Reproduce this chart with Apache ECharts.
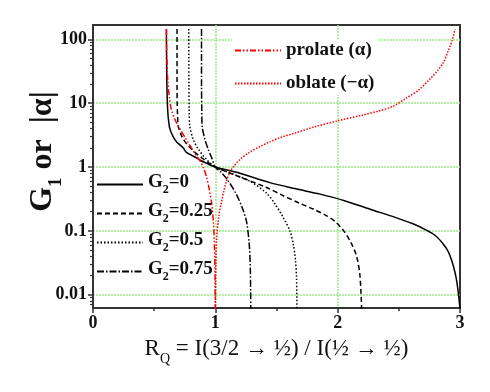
<!DOCTYPE html>
<html>
<head>
    <meta charset="utf-8">
</head>
<body style="margin:0;background:#fff;">

<div id="main" style="width: 490px;height:392px;"></div>
<script src="https://cdn.jsdelivr.net/npm/echarts@6/dist/echarts.min.js"></script>
<script type="text/javascript">
    // tick values
    var xTicks = [0, 1, 2, 3];
    var yTicks = [0.01, 0.1, 1, 10, 100];
    var yMinorTicks = [0.007, 0.008, 0.009,
        0.02, 0.03, 0.04, 0.05, 0.06, 0.07, 0.08, 0.09,
        0.2, 0.3, 0.4, 0.5, 0.6, 0.7, 0.8, 0.9,
        2, 3, 4, 5, 6, 7, 8, 9,
        20, 30, 40, 50, 60, 70, 80, 90];

    // [R_Q, G1]
    var g2_0 = [[0.600, 145], [0.601, 60], [0.604, 20], [0.608, 10], [0.615, 6], [0.628, 4], [0.655, 3],
        [0.682, 2.5], [0.737, 2], [0.764, 1.7], [0.83, 1.45], [0.873, 1.29], [0.93, 1.14], [1.0, 1.0],
        [1.2, 0.8], [1.446, 0.57], [1.65, 0.46], [1.855, 0.377], [2.05, 0.3], [2.264, 0.219], [2.47, 0.163],
        [2.62, 0.128], [2.72, 0.104], [2.8, 0.084], [2.864, 0.062], [2.905, 0.047], [2.933, 0.034],
        [2.96, 0.022], [2.974, 0.016], [2.988, 0.01], [3.0, 0.006]];
    var g2_25 = [[0.687, 145], [0.687, 30], [0.688, 10], [0.692, 6], [0.696, 4.45], [0.715, 3.4], [0.737, 2.75],
        [0.77, 2.25], [0.805, 1.92], [0.845, 1.62], [0.887, 1.41], [0.94, 1.18], [1.0, 1.0], [1.2, 0.7],
        [1.419, 0.478], [1.55, 0.36], [1.69, 0.27], [1.8, 0.22], [1.9, 0.177], [1.98, 0.14], [2.05, 0.1],
        [2.11, 0.065], [2.155, 0.04], [2.182, 0.02], [2.196, 0.006]];
    var g2_50 = [[0.783, 145], [0.784, 20], [0.786, 8], [0.791, 4.45], [0.818, 2.75], [0.86, 1.92], [0.914, 1.41],
        [1.0, 1.0], [1.15, 0.77], [1.282, 0.6], [1.419, 0.39], [1.49, 0.26], [1.555, 0.162], [1.61, 0.1],
        [1.637, 0.062], [1.655, 0.035], [1.664, 0.018], [1.667, 0.006]];
    var g2_75 = [[0.887, 145], [0.887, 20], [0.889, 8], [0.892, 4.45], [0.914, 2.75], [0.941, 1.92], [0.969, 1.41],
        [1.0, 1.0], [1.05, 0.82], [1.1, 0.63], [1.17, 0.38], [1.22, 0.23], [1.255, 0.14], [1.277, 0.062],
        [1.286, 0.025], [1.29, 0.006]];
    var prolate = [[0.600, 145], [0.603, 60], [0.61, 25], [0.625, 12], [0.64, 8], [0.668, 5.67], [0.7, 4.3],
        [0.76, 2.75], [0.81, 1.92], [0.845, 1.5], [0.875, 1.25], [0.905, 0.95], [0.928, 0.7], [0.95, 0.45],
        [0.969, 0.28], [0.985, 0.13], [0.995, 0.04], [0.999, 0.01], [1.0, 0.006]];
    var oblate = [[1.0, 0.006], [1.001, 0.01], [1.004, 0.03], [1.01, 0.07], [1.03, 0.18], [1.05, 0.28],
        [1.07, 0.42], [1.09, 0.6], [1.12, 0.84], [1.15, 1.02], [1.2, 1.3], [1.26, 1.62], [1.37, 2.12],
        [1.45, 2.5], [1.53, 2.9], [1.65, 3.4], [1.8, 4.2], [2.0, 5.3], [2.2, 6.5], [2.33, 7.5], [2.45, 8.9],
        [2.56, 12], [2.66, 16], [2.76, 24.5], [2.82, 33], [2.866, 44], [2.905, 67], [2.935, 95], [2.96, 145]];

    var serif = 'Liberation Serif';
    var gridGreen = '#9aea86';

    function lineSeries(name, data, color, dash) {
        return {
            name: name,
            type: 'line',
            data: data,
            symbol: 'none',
            smooth: 0.3,
            clip: true,
            lineStyle: {color: color, width: 1.5, type: dash},
            itemStyle: {color: color}
        };
    }

    var option = {
        animation: false,
        backgroundColor: '#fff',
        grid: {
            left: 93, right: 30, top: 25, bottom: 84,
            outerBoundsMode: 'none',
            containLabel: false,
            show: true, borderColor: '#333', borderWidth: 2
        },
        legend: [
            {
                data: ['prolate (α)', 'oblate (−α)'],
                orient: 'vertical',
                left: 232, top: 39,
                itemWidth: 46, itemHeight: 14, itemGap: 14,
                itemStyle: {opacity: 0},
                backgroundColor: '#fff',
                padding: [2, 4, 2, 2],
                textStyle: {fontFamily: serif, fontWeight: 'bold', fontSize: 19, color: '#111'}
            },
            {
                data: ['G2=0', 'G2=0.25', 'G2=0.5', 'G2=0.75'],
                orient: 'vertical',
                left: 96, top: 173,
                itemWidth: 46, itemHeight: 14, itemGap: 6,
                itemStyle: {opacity: 0},
                padding: 0,
                formatter: function (name) {
                    return '{g|G}{s|2}{g|' + name.slice(2) + '}';
                },
                textStyle: {
                    fontFamily: serif, fontWeight: 'bold', fontSize: 19, color: '#111',
                    rich: {
                        g: {fontFamily: serif, fontWeight: 'bold', fontSize: 19, verticalAlign: 'bottom', padding: [0, 0, 4, 0]},
                        s: {fontFamily: serif, fontWeight: 'bold', fontSize: 12, verticalAlign: 'bottom'}
                    }
                }
            }
        ],
        xAxis: {
            type: 'value',
            min: xTicks[0], max: xTicks[xTicks.length - 1], interval: 1,
            name: '{n|R}{s|Q}{n| = I(3/2 → ½) / I(½ → ½)}',
            nameLocation: 'middle',
            nameGap: 29,
            nameTextStyle: {
                rich: {
                    n: {fontFamily: serif, fontSize: 23, color: '#111', verticalAlign: 'bottom', padding: [0, 0, 6, 0]},
                    s: {fontFamily: serif, fontSize: 14, color: '#111', verticalAlign: 'bottom'}
                }
            },
            axisLine: {lineStyle: {color: '#333', width: 2}},
            axisTick: {length: 5, lineStyle: {color: '#333', width: 1.5}},
            minorTick: {show: true, splitNumber: 2, length: 3, lineStyle: {color: '#333', width: 1.5}},
            axisLabel: {fontFamily: serif, fontWeight: 'bold', fontSize: 18, color: '#111', margin: 6},
            splitLine: {show: true, showMinLine: false, showMaxLine: false,
                lineStyle: {color: gridGreen, type: [2, 1], width: 1.5}}
        },
        yAxis: [
            {
                type: 'log',
                min: 0.0062, max: 168,
                name: '{t|G}{s|1}{t| or  |α|}',
                nameLocation: 'middle',
                nameGap: 27,
                nameRotate: 90,
                nameMoveOverlap: false,
                nameTextStyle: {
                    padding: [0, 0, 0, 30],
                    rich: {
                        t: {fontFamily: serif, fontWeight: 'bold', fontSize: 32, color: '#111', verticalAlign: 'bottom', padding: [0, 0, 7, 0]},
                        s: {fontFamily: serif, fontWeight: 'bold', fontSize: 19, color: '#111', verticalAlign: 'bottom'}
                    }
                },
                axisLine: {show: true, lineStyle: {color: '#333', width: 2}},
                axisTick: {show: true, length: 5, customValues: yTicks, lineStyle: {color: '#333', width: 1.5}},
                axisLabel: {
                    customValues: yTicks,
                    fontFamily: serif, fontWeight: 'bold', fontSize: 18, color: '#111', margin: 6,
                    formatter: function (v) { return String(v); }
                },
                splitLine: {show: true, lineStyle: {color: gridGreen, type: [2, 1], width: 1.5}}
            },
            {
                type: 'log',
                min: 0.0062, max: 168,
                position: 'left',
                axisLine: {show: false},
                axisTick: {show: true, length: 3, customValues: yMinorTicks, lineStyle: {color: '#333', width: 1.2}},
                axisLabel: {show: false},
                splitLine: {show: false}
            }
        ],
        series: [
            lineSeries('G2=0', g2_0, '#000', 'solid'),
            lineSeries('G2=0.25', g2_25, '#000', [5, 3]),
            lineSeries('G2=0.5', g2_50, '#000', [1.5, 2]),
            lineSeries('G2=0.75', g2_75, '#000', [7, 2, 1.5, 2]),
            lineSeries('prolate (α)', prolate, '#ff0000', [6, 2, 1.5, 2, 1.5, 2]),
            lineSeries('oblate (−α)', oblate, '#ff0000', [1.5, 1.5])
        ]
    };

    var myChart = echarts.init(document.getElementById('main'));
    myChart.setOption(option);
</script>
</body>
</html>
